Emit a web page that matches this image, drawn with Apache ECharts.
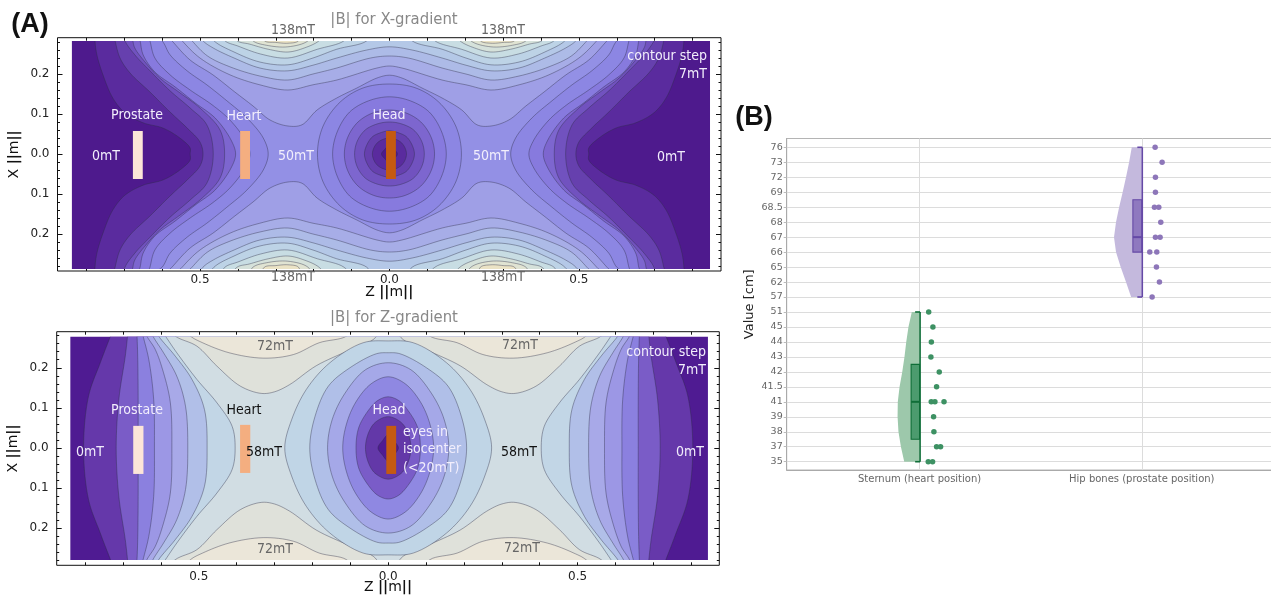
<!DOCTYPE html>
<html><head><meta charset="utf-8"><style>html,body{margin:0;padding:0;background:#fff}#c{width:1271px;height:596px}</style>
<script src="https://cdn.jsdelivr.net/npm/echarts@6/dist/echarts.min.js"></script></head><body><div id="c"></div>
<script>
// ---------- Panel A: contours, in metres, as [|z|, |x|] quadrant curves ----------
const xgSide = [
 [[.526,0],[.526,.015],[.553,.04],[.598,.065],[.65,.078],[.698,.103],[.73,.14],[.756,.198],[.772,.248],[.777,.283],[.777,.31]],
 [[.492,0],[.5,.03],[.534,.065],[.579,.105],[.632,.155],[.685,.203],[.711,.24],[.724,.283],[.73,.31]],
 [[.465,0],[.482,.073],[.526,.115],[.579,.158],[.632,.208],[.672,.248],[.698,.283],[.705,.31]],
 [[.435,0],[.447,.06],[.5,.115],[.553,.153],[.606,.19],[.645,.23],[.672,.265],[.677,.283],[.68,.31]],
 [[.406,0],[.418,.035],[.46,.09],[.513,.128],[.566,.168],[.619,.205],[.65,.248],[.658,.283],[.665,.31]],
 [[.368,0],[.381,.035],[.421,.085],[.468,.123],[.526,.16],[.579,.198],[.619,.24],[.632,.283],[.64,.31]],
 [[.32,0],[.333,.04],[.376,.09],[.429,.133],[.482,.173],[.534,.208],[.579,.248],[.6,.283],[.64,.31]]
];
const xgBridge = [
 [[0,.197],[.033,.19],[.086,.165],[.139,.14],[.191,.11],[.231,.073],[.268,.07],[.315,.085],[.36,.12],[.408,.155],[.466,.198],[.526,.235],[.574,.283],[.6,.31]],
 [[0,.22],[.033,.215],[.139,.185],[.202,.173],[.268,.16],[.342,.173],[.421,.198],[.5,.24],[.547,.283],[.57,.31]],
 [[0,.245],[.05,.24],[.139,.215],[.202,.2],[.268,.185],[.342,.195],[.421,.218],[.48,.245],[.521,.283],[.545,.31]],
 [[0,.268],[.06,.26],[.139,.24],[.202,.222],[.268,.208],[.342,.215],[.41,.24],[.465,.265],[.492,.283],[.51,.31]]
];
const xgLobes = [
 [[.045,.31],[.06,.283],[.139,.262],[.202,.24],[.268,.223],[.342,.23],[.41,.255],[.463,.283],[.48,.31]],
 [[.1,.31],[.12,.283],[.19,.262],[.268,.24],[.34,.25],[.4,.27],[.434,.283],[.45,.31]],
 [[.165,.31],[.186,.283],[.225,.265],[.268,.255],[.32,.262],[.37,.275],[.402,.283],[.42,.31]],
 [[.2,.31],[.215,.283],[.268,.268],[.325,.272],[.36,.283],[.375,.31]],
 [[.235,.31],[.24,.283],[.268,.277],[.3,.279],[.33,.283],[.34,.31]]
];
const xgRings = [
 [[.19,0],[.175,.07],[.13,.13],[.07,.165],[0,.175]],
 [[.15,0],[.138,.055],[.105,.105],[.055,.133],[0,.143]],
 [[.119,0],[.11,.042],[.083,.08],[.043,.103],[0,.11]],
 [[.092,0],[.085,.032],[.064,.06],[.033,.075],[0,.08]],
 [[.066,0],[.06,.022],[.045,.043],[.024,.053],[0,.058]],
 [[.045,0],[.032,.028],[0,.04]],
 [[.021,0],[.012,.012],[0,.0225]]
];
const xgBandColours = ['#4e1a8d','#5a2b9e','#6640ae','#7152bf','#7d66cf','#877ade','#8c86e3','#9390e5','#9f9fe6','#a7ade7','#adbbe7','#b4c8e7','#bdd3e6','#c8dde3','#d5e1da','#e0e3d2','#ebe3c5'];
const xgRingColours = ['#8c86e3','#877ade','#7d66cf','#7152bf','#6640ae','#5a2b9e','#4e1a8d'];

const zgSide = [
 [[.804,0],[.791,.129],[.76,.2125],[.733,.279],[.72,.31]],
 [[.718,0],[.711,.121],[.694,.229],[.688,.279],[.685,.31]],
 [[.66,0],[.66,.121],[.661,.221],[.663,.279],[.665,.31]],
 [[.617,0],[.619,.121],[.632,.221],[.647,.279],[.655,.31]],
 [[.571,0],[.575,.1125],[.593,.1875],[.615,.246],[.637,.279],[.65,.31]],
 [[.529,0],[.535,.104],[.558,.179],[.593,.2375],[.621,.279],[.635,.31]],
 [[.478,0],[.485,.096],[.518,.171],[.562,.229],[.606,.279],[.625,.31]],
 [[.404,0],[.412,.054],[.452,.1125],[.505,.171],[.558,.2375],[.588,.279],[.61,.31]]
];
const zgLobes = [
 [[.02,.31],[.034,.275],[.1,.245],[.19,.205],[.26,.158],[.3,.14],[.335,.136],[.39,.154],[.452,.204],[.505,.254],[.562,.279],[.59,.31]],
 [[.085,.31],[.11,.279],[.182,.2625],[.25,.233],[.33,.224],[.42,.2375],[.49,.2625],[.522,.279],[.55,.31]]
];
const zgRings = [
 [[.273,0],[.255,.07],[.216,.146],[.154,.2125],[.066,.2625],[0,.267]],
 [[.207,0],[.193,.079],[.158,.154],[.101,.2],[.031,.235],[0,.2375]],
 [[.16,0],[.148,.07],[.115,.135],[.06,.195],[0,.2125]],
 [[.12,0],[.11,.06],[.085,.115],[.045,.16],[0,.1775]],
 [[.085,0],[.078,.05],[.055,.09],[.028,.118],[0,.1275]],
 [[.06,0],[.053,.035],[.035,.063],[0,.078]],
 [[.027,0],[.015,.018],[0,.033]]
];
const zgBandColours = ['#4f1b92','#6538aa','#7a5cc7','#8b80df','#9c97e5','#a8a9e8','#b1bfe8','#c2d6e6','#d1dde3','#dfe1da','#ebe6d9'];
const zgRingColours = ['#c0d5e6','#b0bfe8','#a5a8e8','#8f88e2','#7a5cc8','#6338a8','#4f1b92'];

const organColours = ['#fce5d8','#f4ae80','#c55a11'];
const xgOrgans = [[-.677,-.651,-.0625,.0575],[-.394,-.368,-.0625,.0575],[-.009,.017,-.0625,.0575]];
const zgOrgans = [[-.673,-.646,-.065,.055],[-.391,-.364,-.0625,.0575],[-.005,.021,-.065,.055]];
const xgFill = [-.838,.846,-.2875,.2825];
const zgFill = [-.839,.844,-.28,.2775];

const zLabelValues = [-.5,0,.5];
const xLabelValues = [-.2,-.1,0,.1,.2];
const zTickValues = [-.8,-.7,-.6,-.5,-.4,-.3,-.2,-.1,0,.1,.2,.3,.4,.5,.6,.7,.8];
const xTickValues = [-.2,-.1,0,.1,.2];
const xMinorValues = [-.28,-.26,-.24,-.22,-.18,-.16,-.14,-.12,-.08,-.06,-.04,-.02,.02,.04,.06,.08,.12,.14,.16,.18,.22,.24,.26,.28];

// ---------- Panel B ----------
const valueLabels = ['35','37','38','39','41','41.5','42','43','44','45','51','57','62','65','66','67','68','68.5','69','72','73','76'];
const groupNames = ['Sternum (heart position)','Hip bones (prostate position)'];
const sternumLabels = ['51','45','44','43','42','41.5','41','39','38','37','35'];
const sternumViolin = [.035,.05,.06,.068,.078,.09,.098,.099,.095,.084,.069];
const hipLabels = ['76','73','72','69','68.5','68','67','66','65','62','57'];
const hipViolin = [.045,.057,.071,.086,.102,.116,.125,.116,.095,.071,.048];
const sternumBox = [1.5,4,6.5];
const hipBox = [14,15,17.5];
const boxWidth = [.038,.04];
const sternumDots = [['51',.041],['45',.06],['44',.053],['43',.051],['42',.0885],['41.5',.0765],['41',.0525],['41',.069],['41',.11],['39',.063],['38',.0645],['37',.0765],['37',.0945],['35',.039],['35',.0585]];
const hipDots = [['76',.06],['73',.0915],['72',.0615],['69',.0615],['68.5',.057],['68.5',.0765],['68',.0855],['67',.0615],['67',.0825],['66',.036],['66',.0675],['65',.066],['62',.0795],['57',.0465]];

// ---------- geometry helpers ----------
const sideShape = q => {
  const n = q.slice(1);
  return [...q, ...q.slice().reverse().map(p=>[-p[0],p[1]]), ...n.map(p=>[-p[0],-p[1]]), ...n.slice().reverse().map(p=>[p[0],-p[1]])];
};
const ringShape = q => {
  const half = [...q, ...q.slice(0,-1).reverse().map(p=>[-p[0],p[1]])];
  return [...half, ...half.slice(1,-1).reverse().map(p=>[p[0],-p[1]])];
};
const bridgeShapes = q => {
  const last = q[q.length-1];
  const top = [...q.slice().reverse().map(p=>[-p[0],p[1]]), ...q.slice(1), [last[0],.4],[-last[0],.4]];
  return [top, top.map(p=>[p[0],-p[1]])];
};
const lobeShapes = q => {
  const a = q[0], b = q[q.length-1];
  const s = [...q,[b[0],.4],[a[0],.4]];
  return [s, s.map(p=>[-p[0],p[1]]), s.map(p=>[p[0],-p[1]]), s.map(p=>[-p[0],-p[1]])];
};
// closed centripetal spline through screen points, so traced contours render round
function spline(P){
  const n=P.length, out=[], d=(a,b)=>Math.pow(Math.hypot(a[0]-b[0],a[1]-b[1])||1e-3,.5);
  for(let i=0;i<n;i++){
    const p0=P[(i-1+n)%n],p1=P[i],p2=P[(i+1)%n],p3=P[(i+2)%n];
    const t0=0,t1=t0+d(p0,p1),t2=t1+d(p1,p2),t3=t2+d(p2,p3);
    for(let k=0;k<8;k++){
      const t=t1+(t2-t1)*k/8, mix=(a,b,ta,tb)=>[0,1].map(j=>(tb-t)/(tb-ta)*a[j]+(t-ta)/(tb-ta)*b[j]);
      const A1=mix(p0,p1,t0,t1),A2=mix(p1,p2,t1,t2),A3=mix(p2,p3,t2,t3),B1=mix(A1,A2,t0,t2),B2=mix(A2,A3,t1,t3);
      out.push(mix(B1,B2,t1,t2));
    }
  }
  return out;
}
function layers(side, bridge, lobes, rings, bands, ringCols){
  const out = [];
  side.forEach((q,i)=>out.push({pts:sideShape(q),color:bands[i+1]}));
  bridge.forEach((q,i)=>bridgeShapes(q).forEach(p=>out.push({pts:p,color:bands[side.length+1+i]})));
  lobes.forEach((q,i)=>lobeShapes(q).forEach(p=>out.push({pts:p,color:bands[side.length+bridge.length+1+i]})));
  rings.forEach((q,i)=>out.push({pts:ringShape(q),color:ringCols[i]}));
  return out;
}
const lineCol = 'rgba(45,45,70,.5)';
function contourSeries(gi, ls, fill){
  return {type:'custom',xAxisIndex:gi*2,yAxisIndex:gi*4,silent:true,animation:false,data:ls.map((_,i)=>[i]),z:2,
    renderItem(p,api){
      const a=api.coord([fill[0],fill[3]]), b=api.coord([fill[1],fill[2]]);
      const l=ls[api.value(0)];
      return {type:'polygon',shape:{points:spline(l.pts.map(q=>api.coord(q)))},
        clipPath:{type:'rect',shape:{x:a[0],y:a[1],width:b[0]-a[0],height:b[1]-a[1]}},
        style:{fill:l.color,stroke:lineCol,lineWidth:.8}};
    }};
}
function baseSeries(gi, fill, col){
  return {type:'custom',xAxisIndex:gi*2,yAxisIndex:gi*4,silent:true,animation:false,data:[fill],z:1,
    renderItem(p,api){
      const a=api.coord([api.value(0),api.value(3)]), b=api.coord([api.value(1),api.value(2)]);
      return {type:'rect',shape:{x:a[0],y:a[1],width:b[0]-a[0],height:b[1]-a[1]},style:{fill:col}};
    }};
}
function organSeries(gi, rows){
  return {type:'custom',xAxisIndex:gi*2,yAxisIndex:gi*4,silent:true,animation:false,data:rows,z:3,
    renderItem(p,api){
      const a=api.coord([api.value(0),api.value(3)]), b=api.coord([api.value(1),api.value(2)]);
      return {type:'rect',shape:{x:a[0],y:a[1],width:b[0]-a[0],height:b[1]-a[1]},style:{fill:organColours[p.dataIndex]}};
    }};
}
// ---------- axes ----------
const F = 'DejaVu Sans', FC = 'DejaVu Sans Condensed';
const grids = [
  {left:57.5,top:37.7,width:663.5,height:233.3,show:true,borderColor:'#111',borderWidth:1,backgroundColor:'#fff',outerBoundsMode:'none'},
  {left:56.7,top:331.7,width:662.6,height:233.6,show:true,borderColor:'#111',borderWidth:1,backgroundColor:'#fff',outerBoundsMode:'none'},
  {left:786.7,top:138.5,width:486,height:331.5,show:true,borderColor:'#b4b4b4',borderWidth:1,outerBoundsMode:'none'}
];
const ranges = [
  {z:[-.876,.875],x:[-.2925,.2908],labelMargin:3,nameGap:14},
  {z:[-.875,.874],x:[-.293,.29],labelMargin:6,nameGap:15}
];
const axisRich = {n:{fontFamily:F,fontSize:14,color:'#111'},b:{fontFamily:F,fontSize:14,fontWeight:'bold',color:'#111'}};
const noLine = {show:false,onZero:false};
const xAxes=[], yAxes=[];
ranges.forEach((r,g)=>{
  const base={gridIndex:g,type:'value',min:r.z[0],max:r.z[1],splitLine:{show:false},axisLine:noLine};
  xAxes.push({...base,position:'bottom',name:'{n|Z }{b|||}{n|m}{b|||}',nameLocation:'middle',nameGap:r.nameGap,nameMoveOverlap:false,
    nameTextStyle:{rich:axisRich},
    axisTick:{inside:true,length:3,customValues:zTickValues,lineStyle:{color:'#111'}},
    axisLabel:{customValues:zLabelValues,margin:r.labelMargin,fontFamily:F,fontSize:12,color:'#222',formatter:v=>Math.abs(v).toFixed(1)}});
  xAxes.push({...base,position:'top',axisTick:{inside:true,length:3,customValues:zTickValues,lineStyle:{color:'#111'}},axisLabel:{show:false}});
  const yb={gridIndex:g,type:'value',min:r.x[0],max:r.x[1],splitLine:{show:false},axisLine:noLine};
  yAxes.push({...yb,position:'left',name:'{n|X }{b|||}{n|m}{b|||}',nameLocation:'middle',nameGap:36,nameMoveOverlap:false,nameRotate:90,
    nameTextStyle:{rich:axisRich},
    axisTick:{inside:true,length:5,customValues:xTickValues,lineStyle:{color:'#111'}},
    axisLabel:{customValues:xLabelValues,margin:8,fontFamily:F,fontSize:12,color:'#222',formatter:v=>Math.abs(v).toFixed(1)}});
  yAxes.push({...yb,position:'left',axisTick:{inside:true,length:2.5,customValues:xMinorValues,lineStyle:{color:'#111'}},axisLabel:{show:false}});
  yAxes.push({...yb,position:'right',axisTick:{inside:true,length:5,customValues:xTickValues,lineStyle:{color:'#111'}},axisLabel:{show:false}});
  yAxes.push({...yb,position:'right',axisTick:{inside:true,length:2.5,customValues:xMinorValues,lineStyle:{color:'#111'}},axisLabel:{show:false}});
});
const rankValues = valueLabels.map((_,i)=>i);
xAxes.push({gridIndex:2,type:'value',min:-.598,max:1.5892,
  axisLine:{onZero:false,lineStyle:{color:'#aaa'}},axisTick:{show:false,customValues:[0,1]},
  splitLine:{show:true,lineStyle:{color:'#dcdcdc'}},
  axisLabel:{customValues:[0,1],margin:4,fontFamily:F,fontSize:10,color:'#666',formatter:v=>groupNames[Math.round(v)]}});
yAxes.push({gridIndex:2,type:'value',min:-.554,max:21.588,position:'left',
  name:'Value [cm]',nameLocation:'middle',nameGap:31,nameRotate:90,nameTextStyle:{fontFamily:F,fontSize:13,color:'#222'},
  axisLine:{show:true,onZero:false,lineStyle:{color:'#aaa'}},axisTick:{length:3,customValues:rankValues,lineStyle:{color:'#bbb'}},
  splitLine:{show:true,lineStyle:{color:'#dcdcdc'}},
  axisLabel:{customValues:rankValues,margin:4,fontFamily:F,fontSize:9.5,color:'#666',formatter:v=>valueLabels[Math.round(v)]}});
const G2X=4, G2Y=8;
const rank = l => valueLabels.indexOf(l);

function rainSeries(idx, labels, widths, box, bw, cols){
  return {type:'custom',xAxisIndex:G2X,yAxisIndex:G2Y,silent:true,animation:false,data:[[idx]],z:3,
    renderItem(p,api){
      const c=(x,y)=>api.coord([x,y]);
      const ranks=labels.map(rank);
      const top=ranks[0],bot=ranks[ranks.length-1];
      const poly=[c(idx,top),...ranks.map((r,i)=>c(idx-widths[i],r)),c(idx,bot)];
      const a=c(idx-bw,box[2]),b=c(idx,box[0]),m1=c(idx-bw,box[1]),m2=c(idx,box[1]);
      const wt=c(idx,top),wb=c(idx,bot),capL=c(idx-.02,0)[0];
      const line=(x1,y1,x2,y2,w)=>({type:'line',shape:{x1,y1,x2,y2},style:{stroke:cols.line,lineWidth:w}});
      return {type:'group',children:[
        {type:'polygon',shape:{points:poly},style:{fill:cols.violin}},
        {type:'rect',shape:{x:a[0],y:a[1],width:b[0]-a[0],height:b[1]-a[1]},style:{fill:cols.box,stroke:cols.line,lineWidth:1.1}},
        line(m1[0],m1[1],m2[0],m2[1],2),
        line(wt[0]+.5,wt[1],wb[0]+.5,wb[1],1.6),
        line(capL,wt[1],wt[0]+.5,wt[1],1.6),
        line(capL,wb[1],wb[0]+.5,wb[1],1.6)
      ]};
    }};
}
function dotSeries(idx, rows, col){
  return {type:'scatter',xAxisIndex:G2X,yAxisIndex:G2Y,silent:true,animation:false,symbolSize:5.5,z:4,
    itemStyle:{color:col,opacity:1},data:rows.map(r=>[idx+r[1],rank(r[0])])};
}
// ---------- text ----------
const T=(text,x,y,o={})=>({type:'text',z:100,silent:true,x,y,style:{text,fontFamily:o.font||FC,fontSize:o.size||14,fontWeight:o.weight||'normal',fill:o.fill||'#fff',align:o.align||'center',verticalAlign:'middle'}});
const wht='#f2eefc', gr='#666', blk='#111';
const texts=[
 T('(A)',30,25,{font:'Liberation Sans',size:27,weight:'bold',fill:'#111'}),
 T('(B)',754,118,{font:'Liberation Sans',size:27,weight:'bold',fill:'#111'}),
 T('|B| for X-gradient',394,20,{size:16.5,fill:'#888'}),
 T('138mT',293,30,{fill:gr}),T('138mT',503,30,{fill:gr}),T('138mT',293,277,{fill:gr}),T('138mT',503,277,{fill:gr}),
 T('Prostate',137,115,{fill:wht}),T('Heart',244,116,{fill:wht}),T('Head',389,115,{fill:wht}),
 T('0mT',106,156,{fill:wht}),T('50mT',296,156,{fill:wht}),T('50mT',491,156,{fill:wht}),T('0mT',671,157,{fill:wht}),
 T('contour step',707,56,{fill:wht,align:'right'}),T('7mT',707,74,{fill:wht,align:'right'}),
 T('|B| for Z-gradient',394,318,{size:16.5,fill:'#888'}),
 T('72mT',275,346,{fill:gr}),T('72mT',520,345,{fill:gr}),T('72mT',275,549,{fill:gr}),T('72mT',522,548,{fill:gr}),
 T('Prostate',137,410,{fill:wht}),T('Heart',244,410,{fill:blk}),T('Head',389,410,{fill:wht}),
 T('0mT',90,452,{fill:wht}),T('58mT',264,452,{fill:blk}),T('58mT',519,452,{fill:blk}),T('0mT',690,452,{fill:wht}),
 T('contour step',706,352,{fill:wht,align:'right'}),T('7mT',706,370,{fill:wht,align:'right'}),
 T('eyes in',403,432,{fill:wht,align:'left'}),T('isocenter',403,449,{fill:wht,align:'left'}),T('(<20mT)',403,468,{fill:wht,align:'left'})
];
const chart=echarts.init(document.getElementById('c'),null,{renderer:'canvas'});
chart.setOption({animation:false,backgroundColor:'#fff',grid:grids,xAxis:xAxes,yAxis:yAxes,graphic:{elements:texts},
 series:[
  baseSeries(0,xgFill,xgBandColours[0]),
  contourSeries(0,layers(xgSide,xgBridge,xgLobes,xgRings,xgBandColours,xgRingColours),xgFill),
  organSeries(0,xgOrgans),
  baseSeries(1,zgFill,zgBandColours[0]),
  contourSeries(1,layers(zgSide,[],zgLobes,zgRings,zgBandColours,zgRingColours),zgFill),
  organSeries(1,zgOrgans),
  rainSeries(0,sternumLabels,sternumViolin,sternumBox,boxWidth[0],{violin:'#9dc8ab',box:'rgba(50,140,90,.75)',line:'#0f6e38'}),
  rainSeries(1,hipLabels,hipViolin,hipBox,boxWidth[1],{violin:'#c4b9dd',box:'rgba(125,100,180,.75)',line:'#6549a6'}),
  dotSeries(0,sternumDots,'#3d9163'),
  dotSeries(1,hipDots,'#8d76b9')
 ]});
</script></body></html>
